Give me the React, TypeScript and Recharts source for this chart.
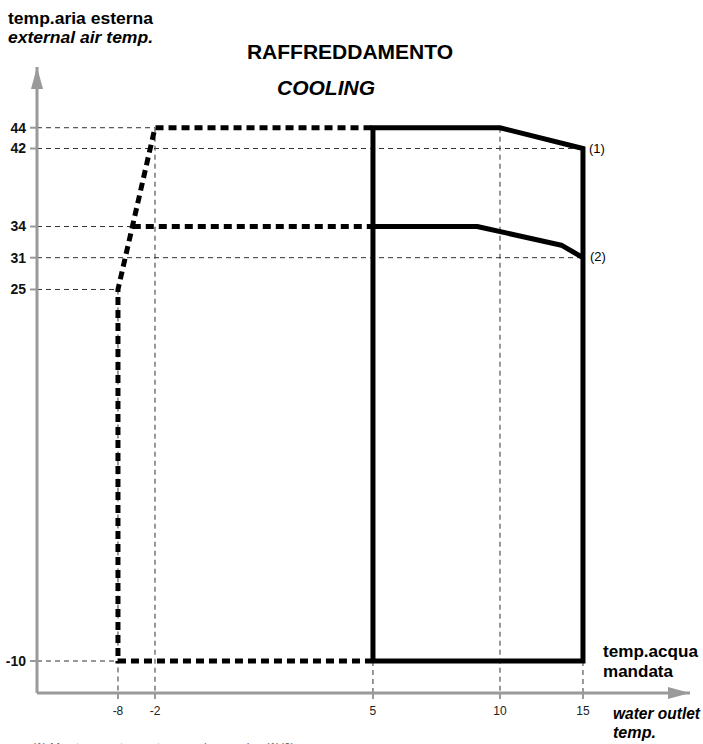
import {
  LineChart,
  Line,
  XAxis,
  YAxis,
  ReferenceLine,
  ReferenceDot,
} from "recharts";

// tick values
const X_TICKS = [-8, -2, 5, 10, 15];
const Y_TICKS = [-10, 25, 31, 34, 42, 44];

// operating limits (water outlet temp, external air temp)
const glycolLimit = [
  { x: 5, y: -10 },
  { x: -8, y: -10 },
  { x: -8, y: 25 },
  { x: -2, y: 44 },
  { x: 5, y: 44 },
];
const glycolLimit34 = [
  { x: -5.6, y: 34 },
  { x: 5, y: 34 },
];
const coolingLimit = [
  { x: 5, y: -10 },
  { x: 5, y: 44 },
  { x: 10, y: 44 },
  { x: 15, y: 42 },
  { x: 15, y: -10 },
  { x: 5, y: -10 },
];
const partialLimit = [
  { x: 5, y: 34 },
  { x: 9.1, y: 34 },
  { x: 13.7, y: 32.2 },
  { x: 15, y: 31 },
];

// the drawing is schematic: axes are piecewise linear between the ticks
const X_BREAKS = [-12, -8, -2, 5, 10, 15, 20];
const X_FRACS = [0, 0.124, 0.1807, 0.5145, 0.709, 0.8361, 1];
const Y_BREAKS = [-15, -10, 25, 31, 34, 42, 44, 50];
const Y_FRACS = [0, 0.0511, 0.6446, 0.6954, 0.7452, 0.8698, 0.903, 1];

function piecewiseScale(breaks: number[], fracs: number[]): any {
  let dom = [breaks[0], breaks[breaks.length - 1]];
  let rng = [0, 1];
  const s: any = (v: number) => {
    let i = 0;
    while (i < breaks.length - 2 && v > breaks[i + 1]) i++;
    const t = (v - breaks[i]) / (breaks[i + 1] - breaks[i]);
    const f = fracs[i] + t * (fracs[i + 1] - fracs[i]);
    return rng[0] + f * (rng[1] - rng[0]);
  };
  s.domain = (d?: number[]) => {
    if (d === undefined) return dom.slice();
    dom = d.slice();
    return s;
  };
  s.range = (r?: number[]) => {
    if (r === undefined) return rng.slice();
    rng = r.slice();
    return s;
  };
  s.invert = (px: number) => {
    const f = (px - rng[0]) / (rng[1] - rng[0]);
    let i = 0;
    while (i < fracs.length - 2 && f > fracs[i + 1]) i++;
    const t = (f - fracs[i]) / (fracs[i + 1] - fracs[i]);
    return breaks[i] + t * (breaks[i + 1] - breaks[i]);
  };
  s.ticks = () => breaks.slice(1, -1);
  s.copy = () => piecewiseScale(breaks, fracs).domain(dom).range(rng);
  return s;
}

const xScale = piecewiseScale(X_BREAKS, X_FRACS);
const yScale = piecewiseScale(Y_BREAKS, Y_FRACS);

const AXIS = "#9a9a9a";
const GUIDE = "#333";
const FONT = "'Liberation Sans', Arial, sans-serif";

const guide = { stroke: GUIDE, strokeWidth: 1, strokeDasharray: "5 4", ifOverflow: "visible" as const };

const ArrowUp = ({ cx, cy }: any) => (
  <polygon points={`${cx},${cy} ${cx - 6},${cy + 22} ${cx + 6},${cy + 22}`} fill={AXIS} />
);
const ArrowRight = ({ cx, cy }: any) => (
  <polygon points={`${cx},${cy} ${cx - 22},${cy - 6} ${cx - 22},${cy + 6}`} fill={AXIS} />
);

export default function App() {
  const xMin = X_BREAKS[0];
  const xMax = X_BREAKS[X_BREAKS.length - 1];
  const yMin = Y_BREAKS[0];
  const yMax = Y_BREAKS[Y_BREAKS.length - 1];

  return (
    <div style={{ position: "absolute", left: 0, top: 0, width: 703, height: 744, background: "#fff", fontFamily: FONT, overflow: "hidden" }}>
      <LineChart width={703} height={744} margin={{ top: 67, right: 13, bottom: 21, left: 0 }}>
        <XAxis
          dataKey="x"
          type="number"
          scale={xScale}
          domain={[xMin, xMax]}
          ticks={X_TICKS}
          interval={0}
          axisLine={{ stroke: AXIS, strokeWidth: 3 }}
          tickLine={{ stroke: AXIS, strokeWidth: 2 }}
          tickSize={6}
          tickMargin={7}
          tick={{ fill: "#222", fontSize: 12, fontFamily: FONT }}
        />
        <YAxis
          dataKey="y"
          type="number"
          scale={yScale}
          domain={[yMin, yMax]}
          ticks={Y_TICKS}
          interval={0}
          width={37}
          axisLine={{ stroke: AXIS, strokeWidth: 3 }}
          tickLine={{ stroke: AXIS, strokeWidth: 2 }}
          tickSize={7}
          tickMargin={4}
          tick={{ fill: "#111", fontSize: 14, fontWeight: 700, fontFamily: FONT }}
        />

        {/* thin guides */}
        <ReferenceLine segment={[{ x: xMin, y: 44 }, { x: -2, y: 44 }]} {...guide} />
        <ReferenceLine segment={[{ x: xMin, y: 42 }, { x: 15, y: 42 }]} {...guide} />
        <ReferenceLine segment={[{ x: xMin, y: 34 }, { x: -5.6, y: 34 }]} {...guide} />
        <ReferenceLine segment={[{ x: xMin, y: 31 }, { x: 15, y: 31 }]} {...guide} />
        <ReferenceLine segment={[{ x: xMin, y: 25 }, { x: -8, y: 25 }]} {...guide} />
        <ReferenceLine segment={[{ x: xMin, y: -10 }, { x: -8, y: -10 }]} {...guide} />
        <ReferenceLine segment={[{ x: -8, y: 25 }, { x: -8, y: yMin }]} {...guide} />
        <ReferenceLine segment={[{ x: -2, y: 44 }, { x: -2, y: yMin }]} {...guide} />
        <ReferenceLine segment={[{ x: 5, y: -10 }, { x: 5, y: yMin }]} {...guide} />
        <ReferenceLine segment={[{ x: 10, y: 44 }, { x: 10, y: yMin }]} {...guide} />
        <ReferenceLine segment={[{ x: 15, y: -10 }, { x: 15, y: yMin }]} {...guide} />

        <Line
          data={glycolLimit}
          dataKey="y"
          stroke="#000"
          strokeWidth={5}
          strokeDasharray="8 5"
          strokeLinejoin="miter"
          dot={false}
          activeDot={false}
          isAnimationActive={false}
        />
        <Line
          data={glycolLimit34}
          dataKey="y"
          stroke="#000"
          strokeWidth={5}
          strokeDasharray="8 5"
          dot={false}
          activeDot={false}
          isAnimationActive={false}
        />
        <Line
          data={coolingLimit}
          dataKey="y"
          stroke="#000"
          strokeWidth={5}
          strokeLinejoin="miter"
          dot={false}
          activeDot={false}
          isAnimationActive={false}
        />
        <Line
          data={partialLimit}
          dataKey="y"
          stroke="#000"
          strokeWidth={5}
          strokeLinejoin="round"
          dot={false}
          activeDot={false}
          isAnimationActive={false}
        />

        <ReferenceDot x={xMin} y={yMax} ifOverflow="visible" shape={ArrowUp} />
        <ReferenceDot x={xMax} y={yMin} ifOverflow="visible" shape={ArrowRight} />
      </LineChart>

      <svg width={703} height={744} style={{ position: "absolute", left: 0, top: 0, pointerEvents: "none" }}>
        <g fontFamily={FONT} fill="#000">
          <text x={8} y={24} fontSize={17} fontWeight={700} textLength={145} lengthAdjust="spacingAndGlyphs">temp.aria esterna</text>
          <text x={8} y={43} fontSize={17} fontWeight={700} fontStyle="italic" textLength={145} lengthAdjust="spacingAndGlyphs">external air temp.</text>
          <text x={350} y={59} fontSize={21} fontWeight={700} textAnchor="middle">RAFFREDDAMENTO</text>
          <text x={326} y={95} fontSize={21} fontWeight={700} fontStyle="italic" textAnchor="middle">COOLING</text>
          <text x={589} y={153} fontSize={13}>(1)</text>
          <text x={590} y={261} fontSize={13}>(2)</text>
          <text x={603} y={657} fontSize={17} fontWeight={700} textLength={95} lengthAdjust="spacingAndGlyphs">temp.acqua</text>
          <text x={603} y={677} fontSize={17} fontWeight={700} textLength={70} lengthAdjust="spacingAndGlyphs">mandata</text>
          <text x={613} y={719} fontSize={17} fontWeight={700} fontStyle="italic" textLength={87} lengthAdjust="spacingAndGlyphs">water outlet</text>
          <text x={613} y={738} fontSize={17} fontWeight={700} fontStyle="italic" textLength={43} lengthAdjust="spacingAndGlyphs">temp.</text>
          <text x={32} y={752} fontSize={12} fill="#666">(1) Max temperatura esterna a pieno carico (1)(2)</text>
        </g>
      </svg>
    </div>
  );
}
